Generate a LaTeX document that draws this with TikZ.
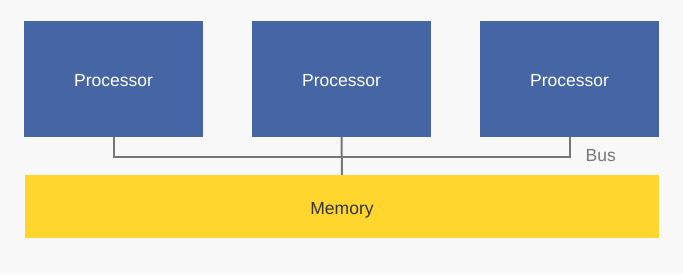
\documentclass[tikz,border=0pt]{standalone}
\usepackage{fontspec}
\setmainfont{Liberation Sans}
\definecolor{bg}{HTML}{F9F8F8}
\definecolor{procblue}{HTML}{4565A5}
\definecolor{memyellow}{HTML}{FFD52E}
\definecolor{busgray}{HTML}{777777}
\definecolor{memtext}{HTML}{333333}
\tikzset{
  lbl/.style={font=\fontsize{17.5}{20}\selectfont, text height=14.5pt, text depth=0pt},
  proc/.style={lbl, fill=procblue, text=white, minimum width=179pt, minimum height=116pt, inner sep=0pt},
  mem/.style={lbl, fill=memyellow, text=memtext, minimum width=634pt, minimum height=63pt, inner sep=0pt, text height=16pt},
  bus/.style={draw=busgray, line width=2pt}
}
\begin{document}
\begin{tikzpicture}[x=1pt,y=-1pt]
    \fill[bg] (0,0) rectangle (683,274);
    \useasboundingbox (0,0) rectangle (683,274);

    \node[proc] (p1) at (113.5,79) {Processor};
    \node[proc] (p2) at (341.5,79) {Processor};
    \node[proc] (p3) at (569.5,79) {Processor};
    \node[mem] (mem) at (342,206.5) {Memory};

    \coordinate (bus) at (0,157);
    \draw[bus] (p1.south) |- (bus -| p3.south) -- (p3.south);
    \draw[bus] (p2.south) -- (mem.north);
    \node[anchor=base west, inner sep=0pt, text=busgray, font=\fontsize{17.5}{20}\selectfont] (buslabel) at (585.5,161) {Bus};
\end{tikzpicture}
\end{document}
